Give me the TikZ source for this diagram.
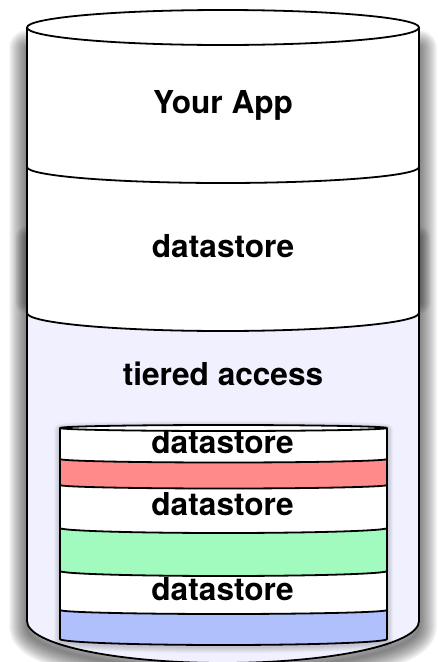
\documentclass[tikz,border=0pt]{standalone}
\usepackage{fontspec}
\setmainfont{TeX Gyre Heros}
\definecolor{lavender}{RGB}{241,240,254}
\definecolor{bandred}{RGB}{255,138,138}
\definecolor{bandgreen}{RGB}{162,251,190}
\definecolor{bandblue}{RGB}{175,192,253}
\begin{document}
\begin{tikzpicture}[x=1pt,y=-1pt,line join=round,
  edge/.style={draw=black,line width=1.8pt},
  lbl/.style={font=\bfseries\fontsize{31.6}{32}\selectfont,anchor=base,inner sep=0pt},
  halo/.style={black,line cap=round}]
\useasboundingbox (0,0) rectangle (438,662);

% soft drop shadow of the outer cylinder (sides and bottom only)
\foreach \w in {2,4,...,36}
  \draw[halo,line width=\w pt,opacity=0.035,shift={(0,6)}]
    (27,42) -- (27,621) arc[start angle=180,end angle=0,x radius=196,y radius=42]
    -- (419,42);
% deeper shade along the middle of the sides
\foreach \w in {2,4,...,24} {
  \draw[halo,line width=\w pt,opacity=0.03] (27,238) -- (27,302);
  \draw[halo,line width=\w pt,opacity=0.03] (419,238) -- (419,302);
}

% outer cylinder body
\fill[white] (27,27.5) -- (27,621) arc[start angle=180,end angle=0,x radius=196,y radius=42]
  -- (419,27.5) arc[start angle=0,end angle=-180,x radius=196,y radius=17.5] -- cycle;
\fill[lavender] (27,313) arc[start angle=180,end angle=0,x radius=196,y radius=18]
  -- (419,621) arc[start angle=0,end angle=180,x radius=196,y radius=42] -- cycle;
\draw[edge] (27,27.5) -- (27,621) arc[start angle=180,end angle=0,x radius=196,y radius=42]
  -- (419,27.5);
\draw[edge] (223,27.5) ellipse[x radius=196,y radius=17.5];
\draw[edge] (27,167) arc[start angle=180,end angle=0,x radius=196,y radius=16];
\draw[edge] (27,313) arc[start angle=180,end angle=0,x radius=196,y radius=18];

% soft shadow of the inner cylinder
\foreach \w in {2,4,...,12}
  \draw[halo,line width=\w pt,opacity=0.03,shift={(0,2)}]
    (60,428) -- (60,639) arc[start angle=180,end angle=0,x radius=163.5,y radius=6]
    -- (387,428) arc[start angle=0,end angle=-180,x radius=163.5,y radius=3] -- cycle;

% inner cylinder with coloured bands
\fill[white] (60,428) -- (60,639) arc[start angle=180,end angle=0,x radius=163.5,y radius=6]
  -- (387,428) arc[start angle=0,end angle=-180,x radius=163.5,y radius=3] -- cycle;
\fill[bandred] (60,459) arc[start angle=180,end angle=0,x radius=163.5,y radius=3.5]
  -- (387,485) arc[start angle=0,end angle=180,x radius=163.5,y radius=3.5] -- cycle;
\fill[bandgreen] (60,528) arc[start angle=180,end angle=0,x radius=163.5,y radius=5]
  -- (387,571) arc[start angle=0,end angle=180,x radius=163.5,y radius=5] -- cycle;
\fill[bandblue] (60,610) arc[start angle=180,end angle=0,x radius=163.5,y radius=4]
  -- (387,639) arc[start angle=0,end angle=180,x radius=163.5,y radius=6] -- cycle;
\draw[edge] (60,428) -- (60,639) arc[start angle=180,end angle=0,x radius=163.5,y radius=6]
  -- (387,428);
\draw[edge] (223.5,428) ellipse[x radius=163.5,y radius=3];
\draw[edge] (60,459) arc[start angle=180,end angle=0,x radius=163.5,y radius=3.5];
\draw[edge] (60,485) arc[start angle=180,end angle=0,x radius=163.5,y radius=3.5];
\draw[edge] (60,528) arc[start angle=180,end angle=0,x radius=163.5,y radius=5];
\draw[edge] (60,571) arc[start angle=180,end angle=0,x radius=163.5,y radius=5];
\draw[edge] (60,610) arc[start angle=180,end angle=0,x radius=163.5,y radius=4];

% labels
\node[lbl] (app) at (223,113) {Your App};
\node[lbl] (store) at (223,257) {datastore};
\node[lbl] (tier) at (223,385) {tiered access};
\node[lbl] (s1) at (222.5,453) {datastore};
\node[lbl] (s2) at (222.5,515) {datastore};
\node[lbl] (s3) at (222.5,600) {datastore};
\end{tikzpicture}
\end{document}
